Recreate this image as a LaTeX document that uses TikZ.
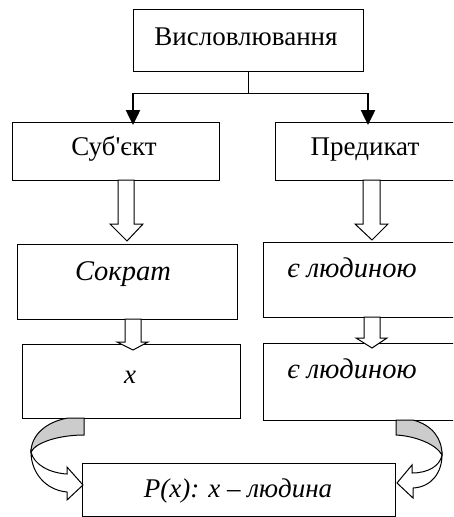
\documentclass[tikz,border=0pt]{standalone}
\usepackage{fontspec}
\setmainfont{Liberation Serif}[Ligatures=TeXOff]
\usetikzlibrary{arrows.meta,calc}
\begin{document}
\begin{tikzpicture}[x=1pt,y=-1pt,
  box/.style={draw, line width=1pt, inner sep=0pt, anchor=north west},
  lbl/.style={anchor=base, inner sep=0pt, font=\fontsize{27}{31}\selectfont},
  ilbl/.style={anchor=base, inner sep=0pt, font=\fontsize{27}{31}\selectfont\itshape},
  ilblw/.style={anchor=base, inner sep=0pt, font=\fontsize{28.5}{32}\selectfont\itshape},
  hollow/.style={draw, fill=white, line width=1pt, line join=miter},
  thinline/.style={draw, line width=1pt},
  thickarrow/.style={draw, line width=2.5pt, -{Triangle[width=14pt,length=15pt]}},
  twistgray/.style={draw, fill=gray!40, line width=1pt},
  twistwhite/.style={draw, fill=white, line width=1pt, line join=miter},
]
\useasboundingbox (0,0) rectangle (453,517);
\clip (0,0) rectangle (453,517);

% boxes
\node[box, minimum width=230pt, minimum height=62pt] (top) at (133,9) {};
\node[box, minimum width=207pt, minimum height=58pt] (subj) at (12,122) {};
\node[box, minimum width=185pt, minimum height=58pt] (pred) at (275,122) {};
\node[box, minimum width=220pt, minimum height=75pt] (sok) at (17,244) {};
\node[box, minimum width=200pt, minimum height=75pt] (e1) at (263,242) {};
\node[box, minimum width=218pt, minimum height=74pt] (xb) at (22,344) {};
\node[box, minimum width=200pt, minimum height=77pt] (e2) at (263,343) {};
\node[box, minimum width=313pt, minimum height=53pt] (pb) at (82,463) {};

% texts
\node[lbl] (ttop) at (246,45) {Висловлювання};
\node[lbl] (tsubj) at (114,155) {Суб'єкт};
\node[lbl] (tpred) at (365,155) {Предикат};
\node[ilblw] (tsok) at (123,280) {Сократ};
\node[ilblw] (te1) at (352,277) {є людиною};
\node[ilbl] (tx) at (130,383) {x};
\node[ilblw] (te2) at (352,378) {є людиною};
\node[ilbl] (tp) at (238,497) {P(x): x – людина};

% tree connectors
\coordinate (j) at ($(top.south)+(0,22)$);
\coordinate (jl) at (133,93);
\coordinate (jr) at (368,93);
\draw[thinline] (top.south) -- (j);
\draw[thinline] (jl) -- (jr);
\draw[thickarrow] (jl) -- ($(jl |- subj.north)+(0,3)$);
\draw[thickarrow] (jr) -- ($(jr |- pred.north)+(0,3)$);

% hollow arrows
\draw[hollow] (118,180) -- (134,180) -- (134,224) -- (143,224) -- (127,241) -- (110,224) -- (118,224) -- cycle;
\draw[hollow] (363,180) -- (380,180) -- (380,224) -- (388,224) -- (372,240) -- (355,224) -- (363,224) -- cycle;
\draw[hollow] (125,319) -- (141,319) -- (141,342) -- (148,342) -- (133,350) -- (117,342) -- (125,342) -- cycle;
\draw[hollow] (364,317) -- (380,317) -- (380,338) -- (387,338) -- (372,348) -- (356,338) -- (364,338) -- cycle;

% left curved arrow
\draw[twistgray] (68,418) .. controls (45,422) and (31,436) .. (31,452)
  .. controls (36,442) and (60,435) .. (84,435) -- (84,418) -- cycle;
\draw[twistwhite] (31,452) .. controls (34,465) and (50,473) .. (67,474)
  -- (67,467) -- (83,485) -- (67,500) -- (67,492)
  .. controls (45,490) and (31,472) .. (31,452) -- cycle;

% right curved arrow
\draw[twistgray] (413,420) .. controls (432,425) and (442,438) .. (442,455)
  .. controls (436,444) and (415,436) .. (396,435) -- (396,420) -- cycle;
\draw[twistwhite] (442,455) .. controls (440,466) and (428,473) .. (412,473)
  -- (412,465) -- (397,483) -- (413,498) -- (413,488)
  .. controls (432,487) and (442,472) .. (442,455) -- cycle;
\end{tikzpicture}
\end{document}
